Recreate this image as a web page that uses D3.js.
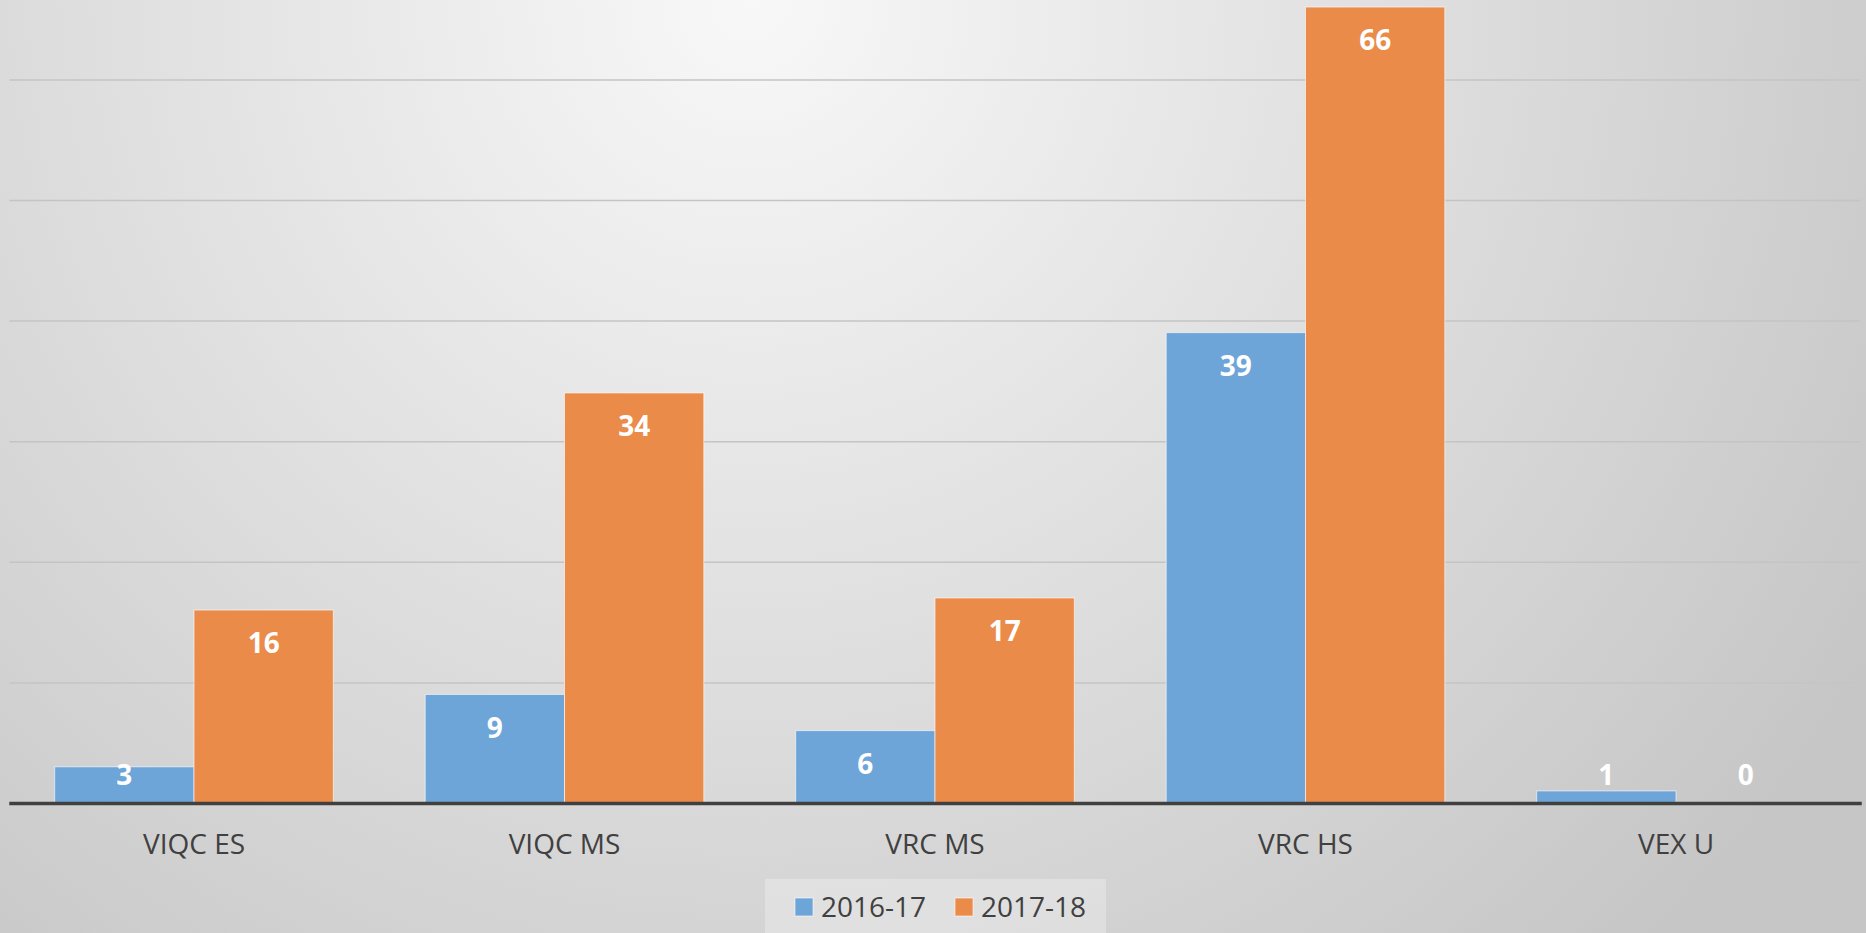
<!DOCTYPE html>
<html>
<head>
<meta charset="utf-8">
<script src="https://cdn.jsdelivr.net/npm/d3@7"></script>
<style>
  html, body { margin: 0; padding: 0; overflow: hidden; }
  svg { display: block; font-family: "Open Sans", sans-serif; }
</style>
</head>
<body>
<svg></svg>
<script>
var categories = ["VIQC ES", "VIQC MS", "VRC MS", "VRC HS", "VEX U"];
var seriesNames = ["2016-17", "2017-18"];
var values2016 = [3, 9, 6, 39, 1];
var values2017 = [16, 34, 17, 66, 0];
var colors = ["#6ea5d8", "#eb8b4a"];

var w = 1866;
var h = 933;
var baseline = 803;

var svg = d3.select("svg")
    .attr("width", w)
    .attr("height", h);

// background, light in the upper middle, greyer toward the corners
var defs = svg.append("defs");
var grad = defs.append("radialGradient")
    .attr("id", "bg")
    .attr("gradientUnits", "userSpaceOnUse")
    .attr("cx", 750).attr("cy", 0).attr("r", 1300);
grad.append("stop").attr("offset", 0).attr("stop-color", "#f8f8f8");
grad.append("stop").attr("offset", 1).attr("stop-color", "#c6c6c6");

svg.append("rect")
    .attr("width", w)
    .attr("height", h)
    .attr("fill", "url(#bg)");

var x0 = d3.scaleBand()
    .domain(categories)
    .range([8.75, 1861.25])
    .paddingInner(0.248)
    .paddingOuter(0.124);

var x1 = d3.scaleBand()
    .domain(seriesNames)
    .range([0, x0.bandwidth()]);

var y = d3.scaleLinear()
    .domain([0, 70])
    .range([baseline, baseline - 70 * 12.06]);

// gridlines
var grid = svg.append("g")
    .attr("transform", "translate(9.5,0)")
    .call(d3.axisLeft(y)
        .tickValues([10, 20, 30, 40, 50, 60])
        .tickSize(-1851)
        .tickFormat(""));
grid.select(".domain").remove();
grid.selectAll(".tick line")
    .attr("stroke", "#c4c4c4")
    .attr("stroke-width", 1.5);

var rows = categories.map(function (c, i) {
    return { cat: c, vals: [values2016[i], values2017[i]] };
});

var groups = svg.selectAll(".grp")
    .data(rows)
    .enter()
    .append("g")
    .attr("class", "grp")
    .attr("transform", function (d) { return "translate(" + x0(d.cat) + ",0)"; });

groups.selectAll("rect")
    .data(function (d) {
        return d.vals.map(function (v, j) { return { s: seriesNames[j], v: v, j: j }; });
    })
    .enter()
    .append("rect")
    .attr("x", function (d) { return x1(d.s); })
    .attr("y", function (d) { return y(d.v); })
    .attr("width", x1.bandwidth())
    .attr("height", function (d) { return baseline - y(d.v); })
    .attr("fill", function (d) { return colors[d.j]; })
    .attr("stroke", "rgba(255,255,255,0.6)")
    .attr("stroke-width", 1)
    .style("display", function (d) { return d.v > 0 ? null : "none"; });

groups.selectAll("text")
    .data(function (d) {
        return d.vals.map(function (v, j) { return { s: seriesNames[j], v: v, j: j }; });
    })
    .enter()
    .append("text")
    .attr("x", function (d) { return x1(d.s) + x1.bandwidth() / 2; })
    .attr("y", function (d) { return Math.min(y(d.v) + 33, baseline - 28); })
    .attr("dy", "0.36em")
    .attr("text-anchor", "middle")
    .attr("fill", "#ffffff")
    .attr("font-weight", "bold")
    .attr("font-size", "28px")
    .text(function (d) { return d.v; });

// category axis
var xAxis = svg.append("g")
    .attr("transform", "translate(0," + baseline + ")")
    .call(d3.axisBottom(x0).tickSize(0).tickPadding(31));
xAxis.select(".domain")
    .attr("stroke", "#404040")
    .attr("stroke-width", 3.5);
xAxis.selectAll("text")
    .attr("font-family", "Open Sans, sans-serif")
    .attr("font-size", "28px")
    .attr("fill", "#404040");

// legend
var legend = svg.append("g");
legend.append("rect")
    .attr("x", 765)
    .attr("y", 879)
    .attr("width", 341)
    .attr("height", 60)
    .attr("fill", "rgba(255,255,255,0.28)");

var legX = [795, 955];
var items = legend.selectAll(".item")
    .data(seriesNames)
    .enter()
    .append("g")
    .attr("class", "item")
    .attr("transform", function (d, i) { return "translate(" + legX[i] + ",0)"; });

items.append("rect")
    .attr("x", 0)
    .attr("y", 898)
    .attr("width", 18)
    .attr("height", 18)
    .attr("fill", function (d, i) { return colors[i]; })
    .attr("stroke", "rgba(255,255,255,0.6)");

items.append("text")
    .attr("x", 26)
    .attr("y", 916.5)
    .attr("font-size", "28px")
    .attr("fill", "#404040")
    .text(function (d) { return d; });
</script>
</body>
</html>
